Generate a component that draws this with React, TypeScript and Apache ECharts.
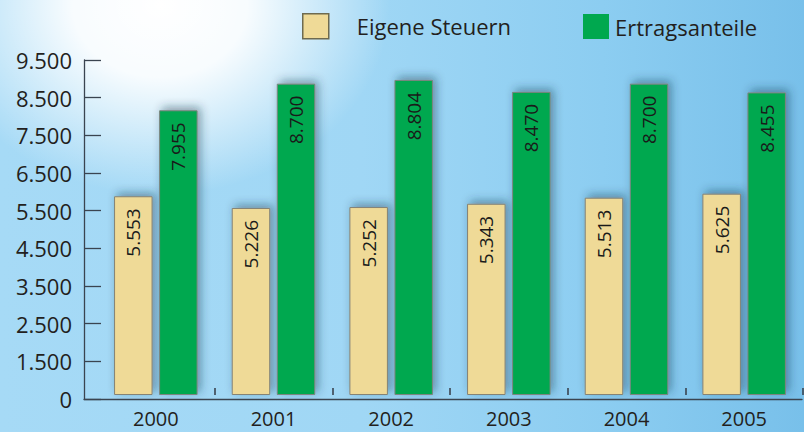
import React, { useEffect, useRef } from "react";
import * as echarts from "echarts";

const years = ["2000", "2001", "2002", "2003", "2004", "2005"];
const eigeneSteuern = [5553, 5226, 5252, 5343, 5513, 5625];
const ertragsanteile = [7955, 8700, 8804, 8470, 8700, 8455];
const yTickLabels = ["0", "1.500", "2.500", "3.500", "4.500", "5.500", "6.500", "7.500", "8.500", "9.500"];
const seriesNames = ["Eigene Steuern", "Ertragsanteile"];

const AX = "#3a4450";
const TXT = "#231f20";
const FONT = "'Open Sans', 'Noto Sans', sans-serif";

const fmt = (v: number) => {
  const s = String(Math.round(v));
  return s.replace(/\B(?=(\d{3})+(?!\d))/g, ".");
};

export default function App() {
  const ref = useRef<HTMLDivElement>(null);
  useEffect(() => {
    if (!ref.current) return;
    const chart = echarts.init(ref.current, undefined, { renderer: "svg" });
    const barLabel = {
      show: true,
      rotate: 90,
      position: "insideTop" as const,
      align: "right" as const,
      verticalAlign: "middle" as const,
      distance: 12,
      fontSize: 19,
      fontFamily: FONT,
      color: "#1a1a1a",
      formatter: (p: any) => fmt(p.value),
    };
    const shadow = {
      shadowBlur: 10,
      shadowColor: "rgba(30,50,70,0.45)",
      shadowOffsetX: 3,
      shadowOffsetY: -3,
    };
    chart.setOption({
      animation: false,
      backgroundColor: "transparent",
      textStyle: { fontFamily: FONT },
      legend: [
        {
          left: 297,
          top: 8,
          icon: "rect",
          itemWidth: 26,
          itemHeight: 25,
          selectedMode: false,
          data: [
            {
              name: seriesNames[0],
              itemStyle: { borderColor: "#6e6a4f", borderWidth: 1.5, shadowBlur: 0, shadowOffsetX: 0, shadowOffsetY: 0 },
            },
          ],
          textStyle: { fontSize: 22, color: TXT, fontFamily: FONT, padding: [0, 0, 0, 23] },
        },
        {
          left: 578,
          top: 9,
          icon: "rect",
          itemWidth: 26,
          itemHeight: 25,
          selectedMode: false,
          data: [
            {
              name: seriesNames[1],
              itemStyle: { borderWidth: 0, shadowBlur: 0, shadowOffsetX: 0, shadowOffsetY: 0 },
            },
          ],
          textStyle: { fontSize: 22, color: TXT, fontFamily: FONT, padding: [0, 0, 0, 1] },
        },
      ],
      grid: [
        { left: 84, top: 60, width: 718, height: 339 },
        { left: 97, top: 55, width: 706, height: 340 },
      ],
      xAxis: [
        {
          gridIndex: 0,
          type: "value",
          min: 0,
          max: 1,
          axisLine: { show: true, onZero: false, lineStyle: { color: AX, width: 1.3 } },
          axisTick: { show: false },
          axisLabel: { show: false },
          splitLine: { show: false },
        },
        {
          gridIndex: 1,
          type: "category",
          data: years,
          offset: 4,
          axisLine: { show: false },
          axisTick: {
            show: true,
            inside: true,
            length: 7,
            lineStyle: { color: AX, width: 1.6 },
            interval: (i: number) => i > 0,
          },
          axisLabel: { fontSize: 20, color: TXT, fontFamily: FONT, margin: 9 },
          splitLine: { show: false },
        },
      ],
      yAxis: [
        {
          gridIndex: 0,
          type: "category",
          data: yTickLabels,
          boundaryGap: false,
          axisLine: { show: true, lineStyle: { color: AX, width: 1.3 } },
          axisTick: { show: true, inside: true, length: 17, interval: 0, lineStyle: { color: AX, width: 1.3 } },
          axisLabel: { interval: 0, fontSize: 22, color: TXT, fontFamily: FONT, margin: 12, padding: [8, 0, 0, 0] },
          splitLine: { show: false },
        },
        {
          gridIndex: 1,
          type: "value",
          min: 0,
          max: 9500,
          show: false,
        },
      ],
      series: [
        {
          name: seriesNames[0],
          type: "bar",
          xAxisIndex: 1,
          yAxisIndex: 1,
          data: eigeneSteuern,
          barWidth: 38.5,
          barGap: "17%",
          itemStyle: { color: "#efda97", borderColor: "#858375", borderWidth: 1, ...shadow },
          label: barLabel,
        },
        {
          name: seriesNames[1],
          type: "bar",
          xAxisIndex: 1,
          yAxisIndex: 1,
          data: ertragsanteile,
          barWidth: 38.5,
          barGap: "17%",
          itemStyle: { color: "#00a84f", borderColor: "#7d8580", borderWidth: 1, ...shadow },
          label: barLabel,
        },
      ],
    });
    return () => chart.dispose();
  }, []);
  return (
    <div
      style={{
        position: "absolute",
        left: 0,
        top: 0,
        width: 804,
        height: 432,
        background:
          "radial-gradient(ellipse 230px 190px at 160px 5px, rgba(255,255,255,1) 0%, rgba(255,255,255,0.92) 38%, rgba(255,255,255,0) 100%), linear-gradient(to right, #a6daf6 0%, #a0d7f5 45%, #8ccdf1 75%, #78c0ea 100%)",
      }}
    >
      <div ref={ref} style={{ width: 804, height: 432 }} />
    </div>
  );
}
